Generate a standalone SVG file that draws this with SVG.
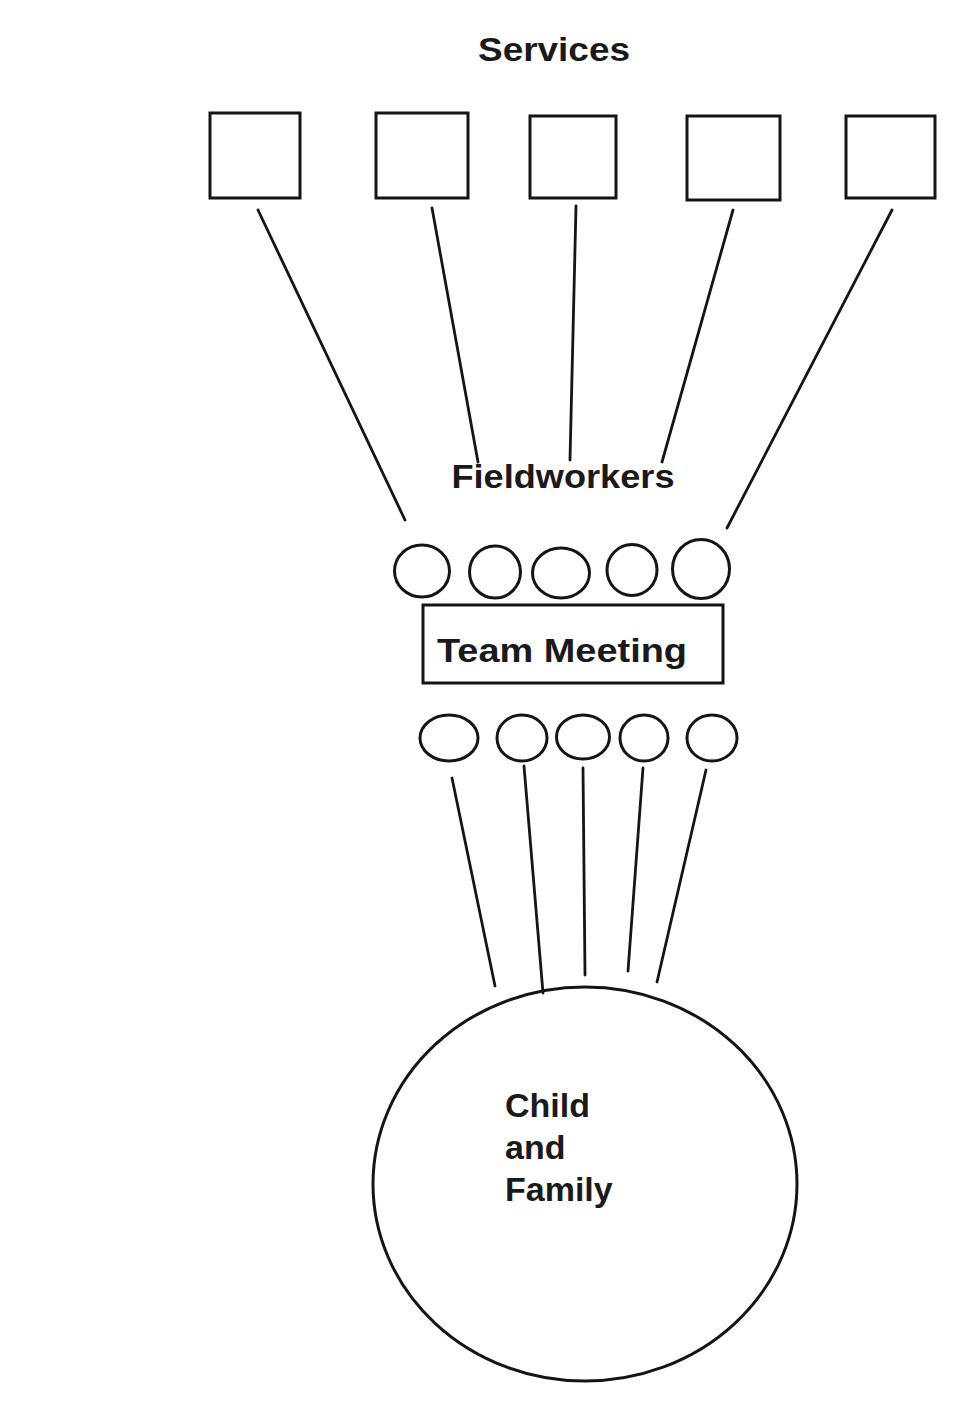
<svg xmlns="http://www.w3.org/2000/svg" width="963" height="1408" viewBox="0 0 963 1408">
<style>
.s{fill:none;stroke:#151515;stroke-width:3}
.c{stroke:#151515;stroke-width:2.8;fill:none;stroke-linecap:round}
.t{font-family:"Liberation Sans",Arial,sans-serif;font-weight:bold;fill:#1a1a1a}
</style>
<rect width="963" height="1408" fill="#ffffff"/>
<text id="services-label" class="t" x="554" y="61" font-size="34" text-anchor="middle" textLength="152" lengthAdjust="spacingAndGlyphs">Services</text>
<g id="service-1"><rect class="s" x="210" y="113" width="90" height="85"/></g>
<g id="service-2"><rect class="s" x="376" y="113" width="92" height="85"/></g>
<g id="service-3"><rect class="s" x="530" y="116" width="86" height="82"/></g>
<g id="service-4"><rect class="s" x="687" y="116" width="93" height="84"/></g>
<g id="service-5"><rect class="s" x="846" y="116" width="89" height="82"/></g>
<g id="connectors">
<line class="c" x1="258" y1="210" x2="405" y2="520"/>
<line class="c" x1="432" y1="208" x2="478" y2="462"/>
<line class="c" x1="576" y1="206" x2="570" y2="460"/>
<line class="c" x1="733" y1="210" x2="662" y2="462"/>
<line class="c" x1="892" y1="210" x2="727" y2="528"/>
<line class="c" x1="452" y1="778" x2="495" y2="986"/>
<line class="c" x1="524" y1="766" x2="543" y2="993"/>
<line class="c" x1="583" y1="768" x2="585" y2="975"/>
<line class="c" x1="643" y1="768" x2="628" y2="971"/>
<line class="c" x1="706" y1="770" x2="657" y2="982"/>
</g>
<text id="fieldworkers-label" class="t" x="563" y="488" font-size="34" text-anchor="middle" textLength="223" lengthAdjust="spacingAndGlyphs">Fieldworkers</text>
<g id="fieldworker-top-1"><ellipse class="s" cx="422" cy="571" rx="27.5" ry="26"/></g>
<g id="fieldworker-top-2"><ellipse class="s" cx="495" cy="572" rx="25.5" ry="26"/></g>
<g id="fieldworker-top-3"><ellipse class="s" cx="561" cy="573" rx="28.5" ry="25"/></g>
<g id="fieldworker-top-4"><ellipse class="s" cx="632" cy="570" rx="25" ry="25.5"/></g>
<g id="fieldworker-top-5"><ellipse class="s" cx="701" cy="569" rx="28.5" ry="29.5"/></g>
<g id="team-meeting">
<rect class="s" x="423" y="605" width="300" height="78"/>
<text class="t" x="437" y="662" font-size="34" textLength="250" lengthAdjust="spacingAndGlyphs">Team Meeting</text>
</g>
<g id="fieldworker-bottom-1"><ellipse class="s" cx="449" cy="738" rx="29" ry="23"/></g>
<g id="fieldworker-bottom-2"><ellipse class="s" cx="522" cy="738" rx="25" ry="23"/></g>
<g id="fieldworker-bottom-3"><ellipse class="s" cx="583" cy="737" rx="26.5" ry="22"/></g>
<g id="fieldworker-bottom-4"><ellipse class="s" cx="644" cy="738" rx="24" ry="23"/></g>
<g id="fieldworker-bottom-5"><ellipse class="s" cx="712" cy="738" rx="25" ry="23"/></g>
<g id="child-family">
<ellipse class="s" cx="585" cy="1184" rx="212" ry="197"/>
<text class="t" font-size="34"><tspan x="505" y="1117">Child</tspan><tspan x="505" y="1159">and</tspan><tspan x="505" y="1201">Family</tspan></text>
</g>
</svg>
